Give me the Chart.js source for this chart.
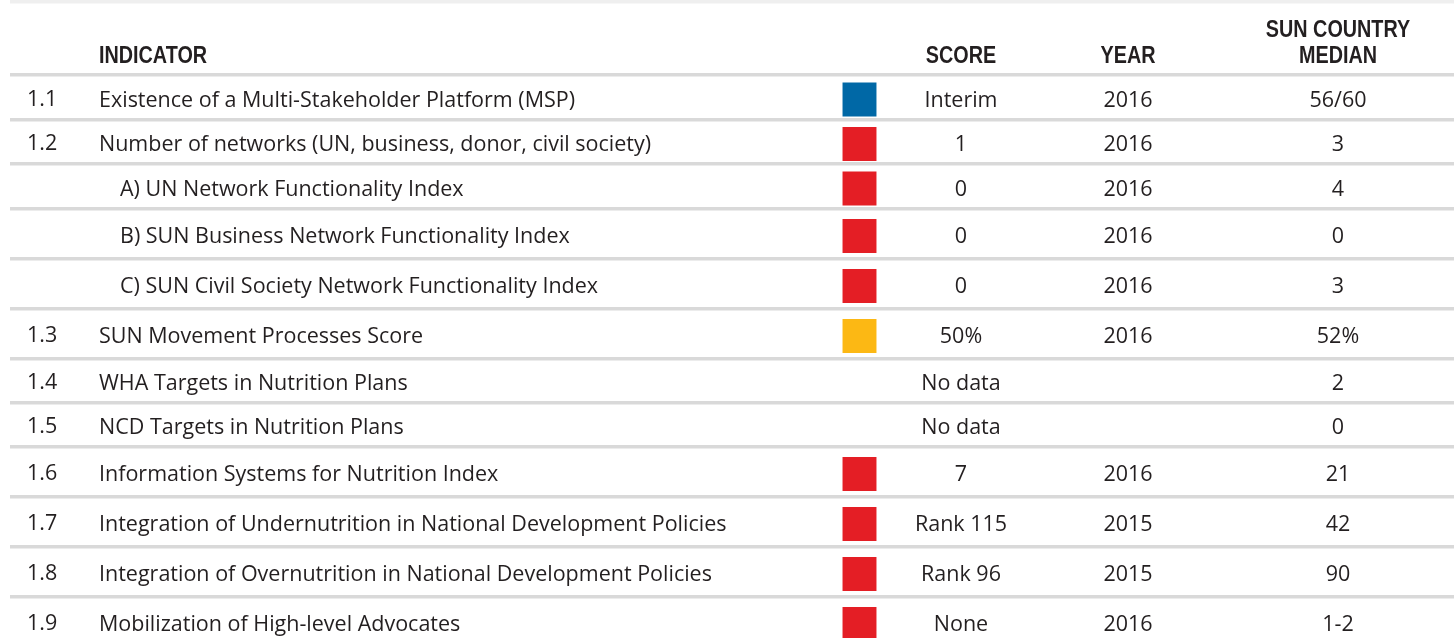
<!DOCTYPE html>
<html>
<head>
<meta charset="utf-8">
<script src="https://cdn.jsdelivr.net/npm/chart.js@4.4.1/dist/chart.umd.min.js"></script>
<style>
  html, body { margin: 0; padding: 0; background: #fff; overflow: hidden; }
  #chart { display: block; }
</style>
</head>
<body>
<canvas id="chart" width="1454" height="638"></canvas>
<script>
// table content
const codes = ['1.1', '1.2', '', '', '', '1.3', '1.4', '1.5', '1.6', '1.7', '1.8', '1.9'];
const indicators = [
  'Existence of a Multi-Stakeholder Platform (MSP)',
  'Number of networks (UN, business, donor, civil society)',
  'A) UN Network Functionality Index',
  'B) SUN Business Network Functionality Index',
  'C) SUN Civil Society Network Functionality Index',
  'SUN Movement Processes Score',
  'WHA Targets in Nutrition Plans',
  'NCD Targets in Nutrition Plans',
  'Information Systems for Nutrition Index',
  'Integration of Undernutrition in National Development Policies',
  'Integration of Overnutrition in National Development Policies',
  'Mobilization of High-level Advocates'
];
const scores = ['Interim', '1', '0', '0', '0', '50%', 'No data', 'No data', '7', 'Rank 115', 'Rank 96', 'None'];
const ratings = ['blue', 'red', 'red', 'red', 'red', 'amber', null, null, 'red', 'red', 'red', 'red'];
const years = ['2016', '2016', '2016', '2016', '2016', '2016', '', '', '2016', '2015', '2015', '2016'];
const medians = ['56/60', '3', '4', '0', '3', '52%', '2', '0', '21', '42', '90', '1-2'];

// layout
const ratingColors = { blue: '#0068a6', red: '#e41e25', amber: '#fcb814' };
const headerRule = 75;
const rowHeights = [45, 44, 45, 50, 50, 50, 44, 44, 50, 50, 50, 50];
const cols = { code: 27, text: 99, sub: 120, square: 859.5, score: 961, year: 1128, median: 1338 };
const bodyFont = '21.5px "Open Sans", "DejaVu Sans", sans-serif';
const headFont = 'bold 23px "Liberation Sans", Arial, sans-serif';
const ink = '#231f20';

const rules = [headerRule];
rowHeights.forEach(h => rules.push(rules[rules.length - 1] + h));
const centers = rowHeights.map((h, i) => rules[i] + h / 2);

const squares = [];
const squareColors = [];
ratings.forEach((r, i) => {
  if (!r) return;
  squares.push({ x: cols.square, y: centers[i] + 2 });
  squareColors.push(ratingColors[r]);
});

const drawCondensed = (ctx, text, x, y, align) => {
  ctx.save();
  ctx.translate(x, y);
  ctx.scale(0.86, 1);
  ctx.textAlign = align;
  ctx.fillText(text, 0, 0);
  ctx.restore();
};

const tableText = {
  id: 'tableText',
  afterDraw(chart) {
    const ctx = chart.ctx;
    const xs = chart.scales.x;
    const ys = chart.scales.y;
    ctx.save();
    ctx.fillStyle = ink;
    ctx.textBaseline = 'alphabetic';

    // header
    ctx.font = headFont;
    drawCondensed(ctx, 'INDICATOR', xs.getPixelForValue(cols.text), 63, 'left');
    drawCondensed(ctx, 'SCORE', xs.getPixelForValue(cols.score), 63, 'center');
    drawCondensed(ctx, 'YEAR', xs.getPixelForValue(cols.year), 63, 'center');
    drawCondensed(ctx, 'SUN COUNTRY', xs.getPixelForValue(cols.median), 37, 'center');
    drawCondensed(ctx, 'MEDIAN', xs.getPixelForValue(cols.median), 63, 'center');

    // rows
    ctx.font = bodyFont;
    indicators.forEach((label, i) => {
      const y = ys.getPixelForValue(centers[i]) + 9;
      ctx.textAlign = 'left';
      if (codes[i]) ctx.fillText(codes[i], xs.getPixelForValue(cols.code), y - 1);
      ctx.fillText(label, xs.getPixelForValue(codes[i] ? cols.text : cols.sub), y);
      ctx.textAlign = 'center';
      ctx.fillText(scores[i], xs.getPixelForValue(cols.score), y);
      ctx.fillText(years[i], xs.getPixelForValue(cols.year), y);
      ctx.fillText(medians[i], xs.getPixelForValue(cols.median), y);
    });
    ctx.restore();
  }
};

new Chart(document.getElementById('chart'), {
  type: 'scatter',
  data: {
    datasets: [{
      data: squares,
      pointStyle: 'rect',
      pointRadius: 24,
      pointHoverRadius: 24,
      borderWidth: 0,
      backgroundColor: squareColors
    }]
  },
  options: {
    responsive: false,
    animation: false,
    devicePixelRatio: 1,
    layout: { autoPadding: false, padding: { left: 10, right: 0, top: 0, bottom: 0 } },
    plugins: { legend: { display: false }, tooltip: { enabled: false } },
    scales: {
      x: { type: 'linear', min: 10, max: 1454, display: false },
      y: {
        type: 'linear',
        reverse: true,
        min: 0,
        max: 638,
        ticks: { display: false },
        border: { display: false },
        grid: {
          drawTicks: false,
          lineWidth: 3.5,
          color: ctx => (ctx.tick && ctx.tick.value < 5 ? '#efefef' : '#d9d9d9')
        },
        afterBuildTicks: scale => {
          scale.ticks = [1.5, ...rules.slice(0, -1)].map(v => ({ value: v }));
        }
      }
    }
  },
  plugins: [tableText]
});
</script>
</body>
</html>
